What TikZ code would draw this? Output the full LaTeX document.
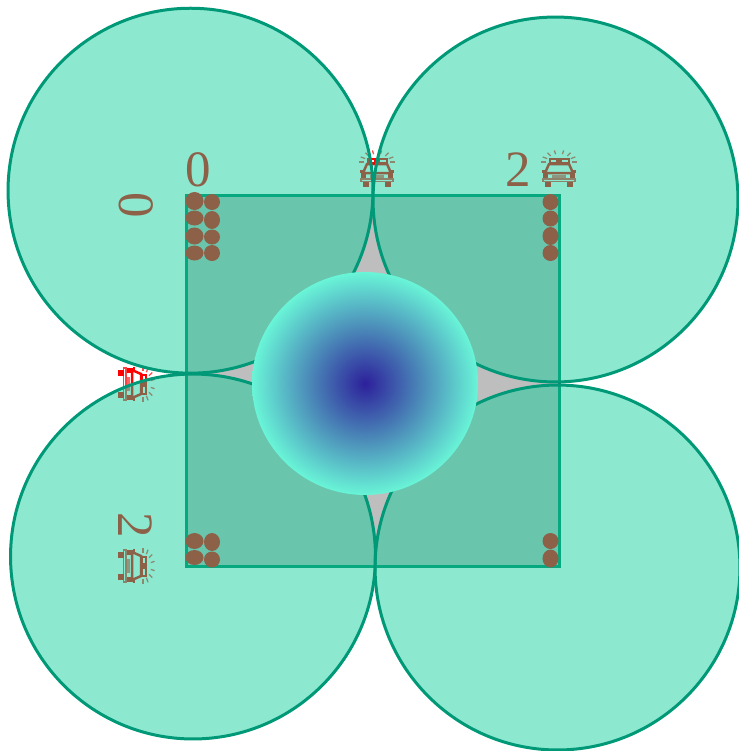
\documentclass[tikz,border=0pt]{standalone}
\usepackage{fontspec}
\setmainfont{Liberation Serif}
\usetikzlibrary{shapes.geometric}
\definecolor{covergreen}{RGB}{13,206,155}
\definecolor{coverline}{RGB}{0,153,119}
\definecolor{fieldline}{RGB}{0,135,105}
\definecolor{fieldgray}{RGB}{190,190,190}
\definecolor{hubdeep}{RGB}{45,32,155}
\definecolor{hubrim}{RGB}{105,245,215}
\tikzset{
  coverdisc/.style={circle,draw=coverline,line width=0.06cm,fill=covergreen,fill opacity=0.47,
    minimum size=7.3cm,inner sep=0pt},
  fielddigit/.style={text=red,font=\fontsize{29}{32}\selectfont,inner sep=0pt},
  userdot/.style={ellipse,fill=red,inner sep=0pt},
  pics/policecar/.style={code={
    % rays
    \foreach \ang in {-180,-155,-130,-105,-75,-50,-25,0}
      \draw[red!70,line width=0.025cm] (0,-8) ++(\ang:13 and 8) -- ++(\ang:5 and 4);
    % light bar
    \draw[red,line width=0.025cm] (-9,-11) rectangle (10,-7.5);
    \fill[red] (-3,-11) rectangle (3,-7.5);
    % roof and windscreen
    \draw[red,line width=0.05cm] (-10,-6) -- (10,-6) -- (14,3) -- (-14,3) -- cycle;
    % body, grille, bumper
    \draw[red,line width=0.04cm] (-15,3) rectangle (15,9);
    \fill[red] (-14,4) rectangle (-11,8);
    \fill[red] (11,4) rectangle (14,8);
    \fill[red!60] (-7,5) rectangle (7,8);
    \draw[red!75,line width=0.03cm] (-16,9) rectangle (16,11.5);
    % wheels and mirrors
    \fill[red] (-14,11.5) rectangle (-8,17);
    \fill[red] (8,11.5) rectangle (14,17);
    \fill[red] (-17,0) rectangle (-14,2.5);
    \fill[red] (14,0) rectangle (17,2.5);
  }}
}
\begin{document}
\begin{tikzpicture}[x=0.02cm,y=-0.02cm]
  \useasboundingbox (0,0) rectangle (738,751);
  % field
  \node[draw=fieldline,line width=0.06cm,fill=fieldgray,minimum width=7.46cm,minimum height=7.42cm,
    inner sep=0pt] (field) at (373,381) {};
  % digits
  \node[fielddigit] (topzero) at (198.3,170) {0};
  \node[fielddigit] (toptwo) at (518,170) {2};
  \node[fielddigit,rotate=-90] (leftzero) at (135.7,205) {0};
  \node[fielddigit,rotate=-90] (lefttwo) at (135.7,525) {2};
  % cars
  \pic at (377,170) {policecar};
  \pic at (559,170) {policecar};
  \pic[rotate=-90] at (135,384) {policecar};
  \pic[rotate=-90] at (135,566) {policecar};
  % users
  \foreach \px/\py/\dw/\dh [count=\i] in {
    194.5/201/18/18, 194.5/218/18/15, 194.5/236/18/17, 194.5/253/18/15,
    212/202/16/16, 212/220/16/18, 212/237/16/15, 212/253/16/16,
    550.5/202/16/16, 550.5/218.5/16/16, 550.5/236/16/18, 550.5/253/16/16,
    194.5/541/18/16, 194.5/557.5/18/15, 212/542/16/18, 212/559.5/16/16,
    550.5/541/16/16, 550.5/558.5/16/18}
    \node[userdot,minimum width=\dw*0.02cm,minimum height=\dh*0.02cm] (user\i) at (\px,\py) {};
  % coverage
  \node[coverdisc] (covernw) at (190.5,190.7) {};
  \node[coverdisc] (coverne) at (555.5,199.5) {};
  \node[coverdisc] (coversw) at (193,556.5) {};
  \node[coverdisc] (coverse) at (557.5,567.5) {};
  % hub
  \node[ellipse,inner color=hubdeep,outer color=hubrim,minimum width=4.52cm,minimum height=4.46cm,
    inner sep=0pt] (hub) at (365,383.5) {};
\end{tikzpicture}
\end{document}
